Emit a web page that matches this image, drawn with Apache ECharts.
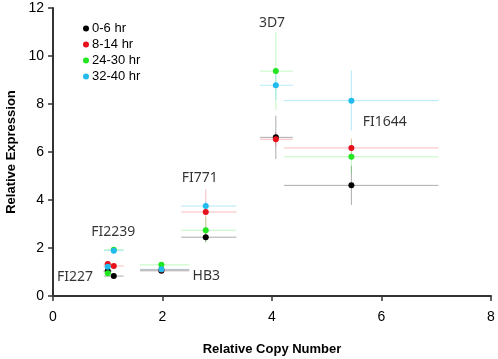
<!DOCTYPE html>
<html>
<head>
<meta charset="utf-8">
<script src="https://cdn.jsdelivr.net/npm/echarts@6/dist/echarts.min.js"></script>
<style>
  html, body { margin: 0; padding: 0; background: #fff; }
  #chart { width: 498px; height: 359px; }
</style>
</head>
<body>
<div id="chart"></div>
<script>
// strains, in the same order for every array below
var strains = ['FI227', 'FI2239', 'HB3', 'FI771', '3D7', 'FI1644'];
var copyNumber = [1.0, 1.11, 1.98, 2.79, 4.07, 5.45];
var copyLow = [0.92, 0.93, 1.59, 2.34, 3.78, 4.22];
var copyHigh = [1.08, 1.29, 2.49, 3.35, 4.38, 7.04];

var seriesNames = ['0-6 hr', '8-14 hr', '24-30 hr', '32-40 hr'];
var expr_0_6 = [1.04, 0.83, 1.05, 2.45, 6.61, 4.61];
var expr_8_14 = [1.33, 1.25, 1.10, 3.50, 6.53, 6.17];
var expr_24_30 = [0.95, 1.93, 1.30, 2.74, 9.37, 5.80];
var expr_32_40 = [1.22, 1.89, 1.11, 3.75, 8.78, 8.14];

var err_0_6 = [0.08, 0.08, 0.05, 0.20, 0.90, 0.82];
var err_8_14 = [0.10, 0.10, 0.05, 0.95, 0.30, 0.40];
var err_24_30 = [0.08, 0.10, 0.08, 0.55, 1.63, 0.70];
var err_32_40 = [0.08, 0.12, 0.15, 0.20, 0.60, 1.25];

// label spots, in data units
var labelX = [0.40, 1.10, 2.80, 2.68, 4.00, 6.06];
var labelY = [0.80, 2.68, 0.85, 4.90, 11.37, 7.26];

var xTicks = [0, 2, 4, 6, 8];
var yTicks = [0, 2, 4, 6, 8, 10, 12];

var colors = ['#000000', '#e8101a', '#22e622', '#22bbee'];
var barColors = ['rgba(0,0,0,0.33)', 'rgba(232,16,26,0.28)', 'rgba(34,230,34,0.28)', 'rgba(34,187,238,0.33)'];

var exprs = [expr_0_6, expr_8_14, expr_24_30, expr_32_40];
var errs = [err_0_6, err_8_14, err_24_30, err_32_40];

var myChart = echarts.init(document.getElementById('chart'));

var series = [];
// error bars first so the dots sit on top
exprs.forEach(function (ys, k) {
  var d = ys.map(function (y, i) {
    return [copyNumber[i], y, copyLow[i], copyHigh[i], y - errs[k][i], y + errs[k][i]];
  });
  series.push({
    name: seriesNames[k] + ' err',
    type: 'custom',
    silent: true,
    z: 1,
    data: d,
    renderItem: function (params, api) {
      var c = api.coord([api.value(0), api.value(1)]);
      var l = api.coord([api.value(2), api.value(1)]);
      var r = api.coord([api.value(3), api.value(1)]);
      var lo = api.coord([api.value(0), api.value(4)]);
      var hi = api.coord([api.value(0), api.value(5)]);
      var st = { stroke: barColors[k], lineWidth: 1 };
      return {
        type: 'group',
        children: [
          { type: 'line', shape: { x1: l[0], y1: c[1], x2: r[0], y2: c[1] }, style: st },
          { type: 'line', shape: { x1: c[0], y1: lo[1], x2: c[0], y2: hi[1] }, style: st }
        ]
      };
    }
  });
});
exprs.forEach(function (ys, k) {
  series.push({
    name: seriesNames[k],
    type: 'scatter',
    symbol: 'circle',
    symbolSize: 6,
    z: 3,
    itemStyle: { color: colors[k], opacity: 1 },
    data: ys.map(function (y, i) { return [copyNumber[i], y]; })
  });
});
series.push({
  name: 'labels',
  type: 'scatter',
  symbolSize: 0,
  silent: true,
  z: 4,
  label: {
    show: true,
    position: 'inside',
    formatter: '{b}',
    color: '#000',
    fontSize: 14,
    fontFamily: 'Noto Sans'
  },
  data: strains.map(function (s, i) { return { name: s, value: [labelX[i], labelY[i]] }; })
});

myChart.setOption({
  animation: false,
  backgroundColor: '#fff',
  grid: { left: 53, right: 7, top: 8, bottom: 63, outerBoundsMode: 'none', containLabel: false },
  legend: {
    data: seriesNames,
    orient: 'vertical',
    left: 78,
    top: 17,
    icon: 'circle',
    itemWidth: 6,
    itemHeight: 6,
    itemGap: 3,
    textStyle: { fontSize: 13, fontFamily: 'Liberation Sans', color: '#000', padding: [0, 0, 0, -2] }
  },
  xAxis: {
    type: 'value',
    min: xTicks[0],
    max: xTicks[xTicks.length - 1],
    interval: 2,
    name: 'Relative Copy Number',
    nameLocation: 'middle',
    nameGap: 47,
    nameTextStyle: { fontSize: 13, fontWeight: 'bold', fontFamily: 'Liberation Sans', color: '#000' },
    axisLine: { show: true, onZero: false, lineStyle: { color: '#333', width: 2 } },
    axisTick: { show: true, length: 5, lineStyle: { color: '#333', width: 1.5 } },
    axisLabel: { fontSize: 14, fontFamily: 'Liberation Sans', color: '#000', margin: 14 },
    splitLine: { show: false }
  },
  yAxis: {
    type: 'value',
    min: yTicks[0],
    max: yTicks[yTicks.length - 1],
    interval: 2,
    name: 'Relative Expression',
    nameLocation: 'middle',
    nameGap: 29,
    nameTextStyle: { fontSize: 13, fontWeight: 'bold', fontFamily: 'Liberation Sans', color: '#000' },
    axisLine: { show: true, onZero: false, lineStyle: { color: '#333', width: 2 } },
    axisTick: { show: true, length: 5, lineStyle: { color: '#333', width: 1.5 } },
    axisLabel: { fontSize: 14, fontFamily: 'Liberation Sans', color: '#000', margin: 9 },
    splitLine: { show: false }
  },
  series: series
});
</script>
</body>
</html>
